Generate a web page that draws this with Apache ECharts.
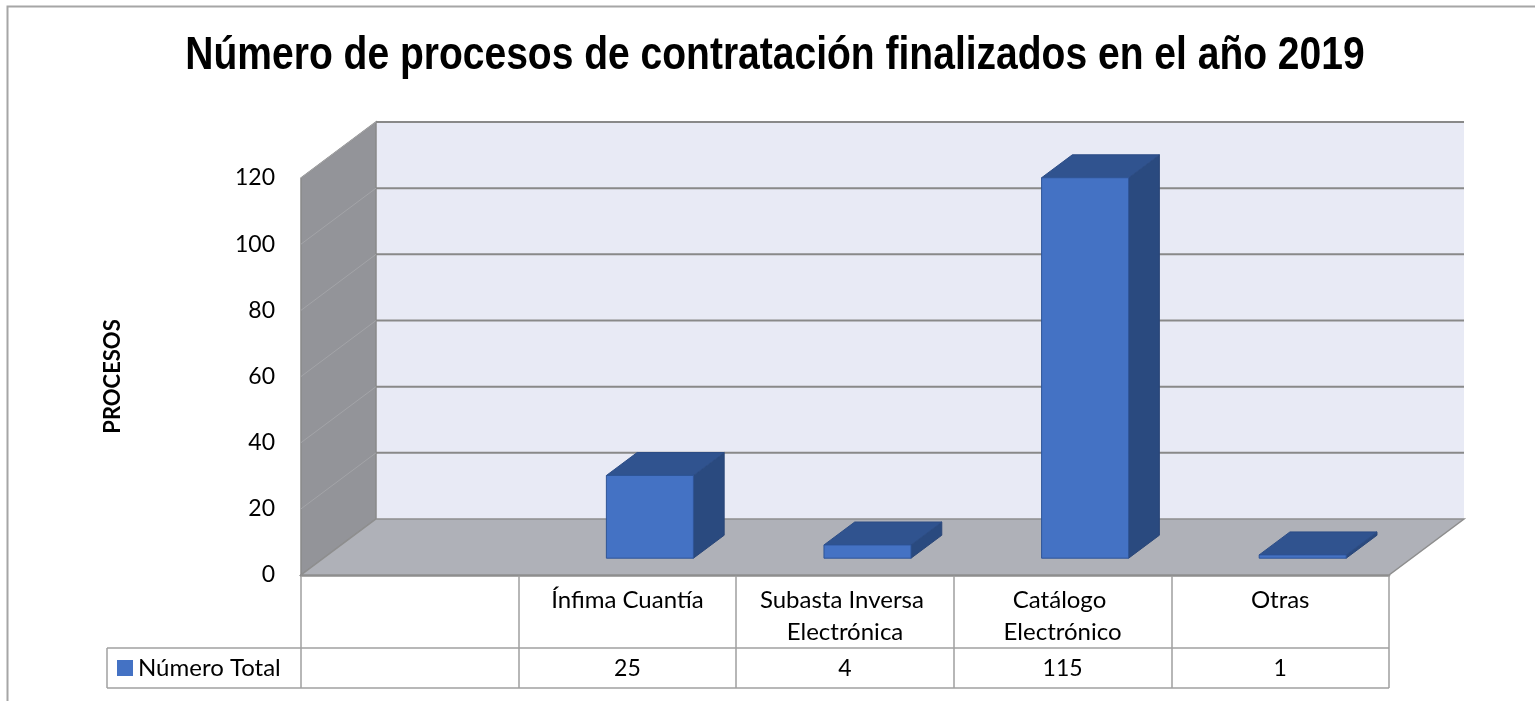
<!DOCTYPE html>
<html>
<head>
<meta charset="utf-8">
<script src="https://cdn.jsdelivr.net/npm/echarts@6/dist/echarts.min.js"></script>
<style>
  html, body { margin: 0; padding: 0; background: #fff; }
  #chart { width: 1535px; height: 701px; }
</style>
</head>
<body>
<div id="chart"></div>
<script>
const categories = ["", "Ínfima Cuantía", "Subasta Inversa Electrónica", "Catálogo Electrónico", "Otras"];
const totals = [null, 25, 4, 115, 1];
const yTicks = [0, 20, 40, 60, 80, 100, 120];
const seriesName = "Número Total";
const titleText = "Número de procesos de contratación finalizados en el año 2019";

// oblique depth of the 3D box (px)
const DX = 75, DY = -56;
const FONT = "Lato, 'Open Sans', sans-serif";

function renderFrame(params, api) {
  const cs = params.coordSys;
  const x0 = cs.x, x1 = cs.x + cs.width;
  const yb = api.coord([0, 0])[1];
  const yt = api.coord([0, yTicks[yTicks.length - 1]])[1];
  const kids = [
    // back wall
    { type: "polygon", shape: { points: [[x0 + DX, yt + DY], [x1 + DX, yt + DY], [x1 + DX, yb + DY], [x0 + DX, yb + DY]] },
      style: { fill: "#E8EAF5" } },
    // left wall
    { type: "polygon", shape: { points: [[x0, yt], [x0 + DX, yt + DY], [x0 + DX, yb + DY], [x0, yb]] },
      style: { fill: "#939499", stroke: "#898989", lineWidth: 1.5 } },
    // floor
    { type: "polygon", shape: { points: [[x0, yb], [x0 + DX, yb + DY], [x1 + DX, yb + DY], [x1, yb]] },
      style: { fill: "#AFB1B8", stroke: "#8E8E8E", lineWidth: 1.5 } }
  ];
  yTicks.forEach(v => {
    if (v === 0) return;
    const y = api.coord([0, v])[1];
    kids.push({ type: "line", shape: { x1: x0 + DX, y1: y + DY, x2: x1 + DX, y2: y + DY },
      style: { stroke: "#898989", lineWidth: 2 } });
    kids.push({ type: "line", shape: { x1: x0, y1: y, x2: x0 + DX, y2: y + DY },
      style: { stroke: "#A3A4A8", lineWidth: 1 } });
  });
  return { type: "group", children: kids };
}

function renderTable(params, api) {
  const cs = params.coordSys;
  const yb = api.coord([0, 0])[1];
  const r1 = yb + 73, r2 = yb + 113;
  const xr = cs.x + cs.width;
  const lx = 107;
  const st = { stroke: "#A0A0A0", lineWidth: 1.5 };
  return {
    type: "group",
    children: [
      { type: "line", shape: { x1: lx, y1: r1, x2: xr, y2: r1 }, style: st },
      { type: "line", shape: { x1: lx, y1: r2, x2: xr, y2: r2 }, style: st },
      { type: "line", shape: { x1: lx, y1: r1, x2: lx, y2: r2 }, style: st }
    ]
  };
}

function renderBar(params, api) {
  const i = api.value(0), v = api.value(1);
  const base = api.coord([i, 0]);
  const top = api.coord([i, v]);
  const bw = api.size([1, 0])[0];
  const hw = bw * 0.2;
  const fx = 0.3, dd = 0.41;
  const l = base[0] - hw + fx * DX, r = base[0] + hw + fx * DX;
  const b = base[1] + fx * DY, t = top[1] + fx * DY;
  const ox = dd * DX, oy = dd * DY;
  return {
    type: "group",
    children: [
      { type: "polygon", shape: { points: [[r, t], [r + ox, t + oy], [r + ox, b + oy], [r, b]] },
        style: { fill: "#2A4A7F", stroke: "#2A4677", lineWidth: 1 } },
      { type: "polygon", shape: { points: [[l, t], [r, t], [r + ox, t + oy], [l + ox, t + oy]] },
        style: { fill: "#30538F", stroke: "#2C4D86", lineWidth: 1 } },
      { type: "rect", shape: { x: l, y: t, width: r - l, height: b - t },
        style: { fill: "#4472C4", stroke: "#2F5597", lineWidth: 1 } }
    ]
  };
}

const chart = echarts.init(document.getElementById("chart"));
chart.setOption({
  animation: false,
  graphic: [{
    type: "rect", silent: true,
    shape: { x: 7.5, y: 6.5, width: 1600, height: 800 },
    style: { fill: "none", stroke: "#A6A6A6", lineWidth: 2 }
  }, {
    // condensed bold title (Arial Narrow look)
    type: "text", silent: true,
    x: 775, y: 56, scaleX: 0.83,
    style: {
      text: titleText,
      fontFamily: "'Liberation Sans', Arial, sans-serif",
      fontWeight: "bold", fontSize: 47, fill: "#000",
      align: "center", verticalAlign: "middle"
    }
  }],
  legend: {
    data: [seriesName],
    left: 117, top: 656, padding: 0,
    icon: "rect", itemWidth: 16, itemHeight: 16, itemGap: 5,
    textStyle: { fontFamily: FONT, fontSize: 24, lineHeight: 24, color: "#000" }
  },
  grid: { left: 301, right: 146, top: 178, bottom: 126, outerBoundsMode: "none" },
  xAxis: [{
    type: "category",
    data: categories,
    axisLine: { show: true, lineStyle: { color: "#8C8C8C", width: 2.5 } },
    axisTick: { show: true, length: 113, interval: 0, lineStyle: { color: "#A0A0A0", width: 1.5 } },
    axisLabel: { interval: 0, margin: 9, fontFamily: FONT, fontSize: 24, color: "#000",
      lineHeight: 32, width: 200, overflow: "break" },
    splitLine: { show: false }
  }, {
    type: "category",
    position: "bottom",
    offset: 73,
    data: totals.map(v => v == null ? "" : String(v)),
    axisLine: { show: false },
    axisTick: { show: false },
    axisLabel: { interval: 0, margin: 9, fontFamily: FONT, fontSize: 23, color: "#000" }
  }],
  yAxis: {
    type: "value",
    min: 0, max: 120, interval: 20,
    name: "PROCESOS",
    nameLocation: "middle",
    nameRotate: 90,
    nameGap: 177,
    nameTextStyle: { fontFamily: FONT, fontWeight: "bold", fontSize: 22, color: "#000" },
    axisLine: { show: false },
    axisTick: { show: false },
    splitLine: { show: false },
    axisLabel: { margin: 26, fontFamily: FONT, fontSize: 23, color: "#000" }
  },
  series: [{
    type: "custom",
    name: "frame",
    silent: true,
    z: 1,
    renderItem: renderFrame,
    data: [[0, 0]]
  }, {
    type: "custom",
    name: "table",
    silent: true,
    z: 1,
    renderItem: renderTable,
    data: [[0, 0]]
  }, {
    type: "custom",
    name: seriesName,
    z: 3,
    itemStyle: { color: "#4472C4" },
    renderItem: renderBar,
    data: totals.map((v, i) => [i, v]).filter(d => d[1] != null)
  }]
});
window.addEventListener("resize", () => chart.resize());
</script>
</body>
</html>
